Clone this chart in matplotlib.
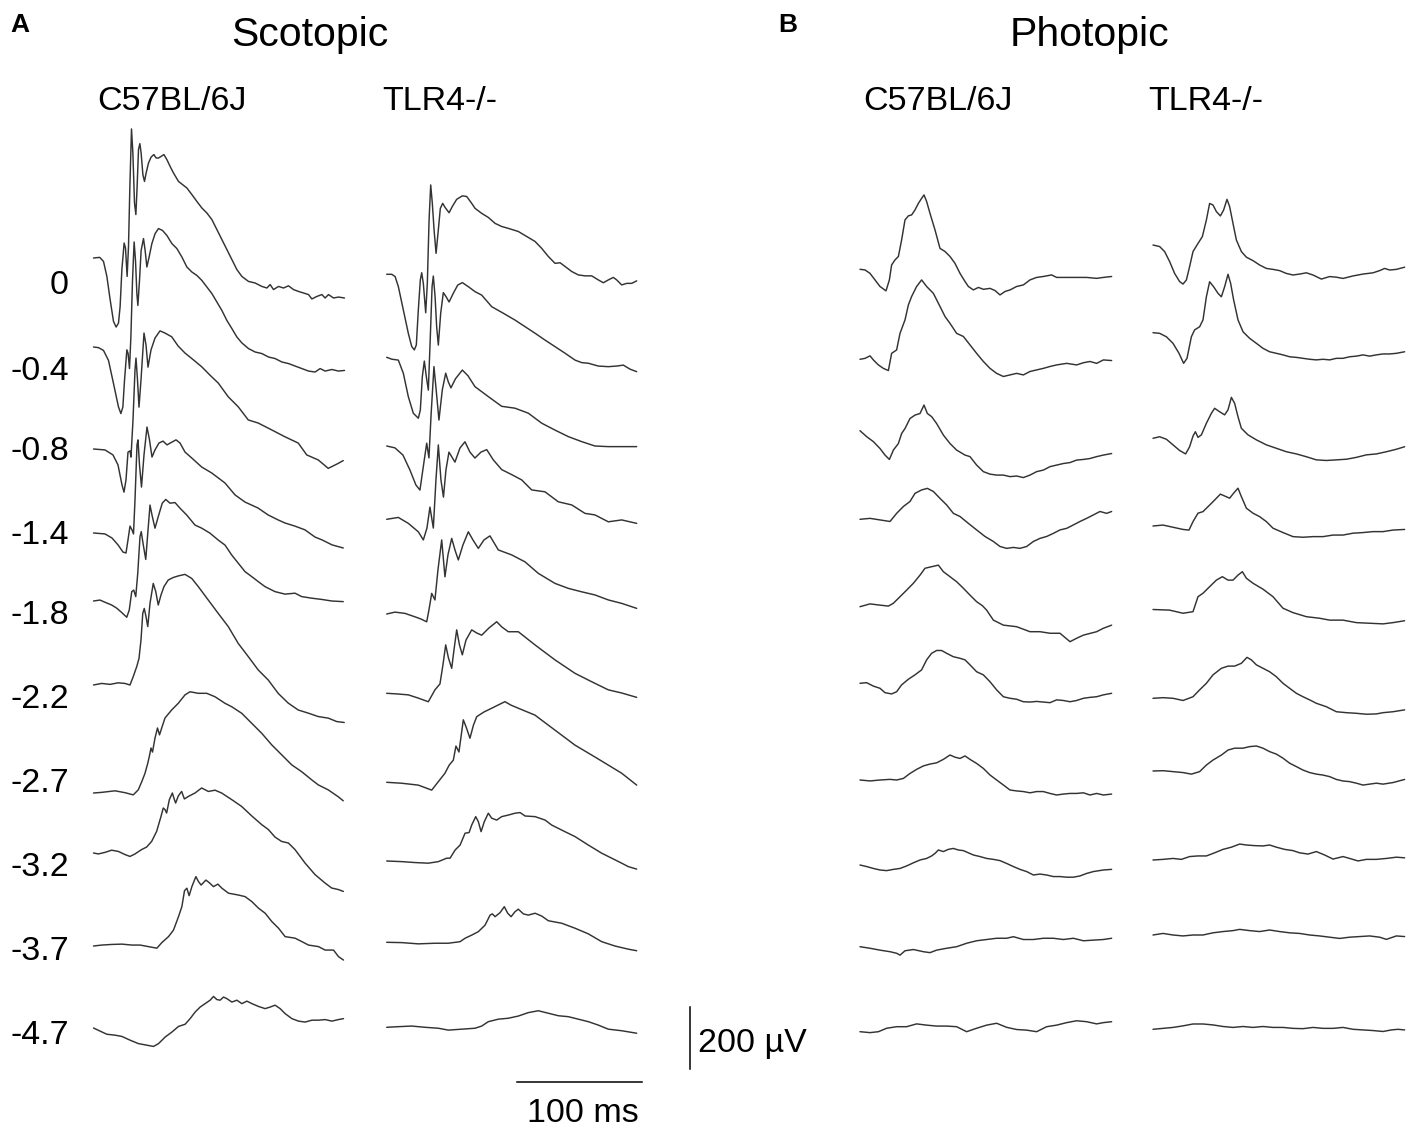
import matplotlib
matplotlib.use("Agg")
import matplotlib.pyplot as plt

# ---------------- data (time in ms, amplitude in µV, relative to trace start) ----------------
conditions = ["Scotopic", "Photopic"]
strains = ["C57BL/6J", "TLR4-/-"]
intensities = ["0", "-0.4", "-0.8", "-1.4", "-1.8", "-2.2", "-2.7", "-3.2", "-3.7", "-4.7"]
scale_uv = 200
scale_ms = 100

scot_c57 = [
    [(0,0),(5,2),(8,-11),(10.7,-59),(13.3,-133),(16,-203),(18.1,-221),(20,-208),(21.3,-155),(22.7,-37),(24.5,48),(25.6,32),(26.9,-59),(28,37),(29.1,229),(30.4,413),(31.5,336),(32.8,176),(33.9,139),(34.9,229),(36,347),(37.1,366),(38.1,336),(39.5,267),(40.8,245),(42.1,272),(44,304),(46.1,323),(48.3,331),(50.1,320),(52,320),(54.1,325),(56.3,331),(58.7,315),(61.3,293),(64,272),(68,245),(71.2,235),(74.7,224),(78.7,203),(82.7,181),(86.7,160),(90.7,144),(94.7,123),(98.7,91),(102.7,59),(106.7,27),(110.7,-5),(114.7,-37),(118.7,-59),(124,-75),(129.3,-80),(134.7,-91),(138.7,-96),(141.3,-85),(144,-101),(148,-91),(152,-96),(156,-89),(160,-101),(164,-107),(168,-112),(172,-117),(174.7,-131),(178.7,-123),(182.7,-117),(185.3,-128),(188,-117),(192,-128),(196,-125),(200.8,-128)],
    [(0,0),(4,-2),(8,-11),(12,-43),(16,-117),(20,-192),(21.9,-213),(23.5,-192),(24.8,-107),(26.7,-9),(27.7,-21),(28.8,-69),(29.9,32),(31.2,213),(32.5,336),(33.6,277),(34.7,171),(35.5,133),(36.8,213),(38.1,309),(40,347),(41.3,309),(42.7,256),(44.5,288),(46.7,331),(49.3,363),(52,379),(55.2,373),(58.7,357),(62.7,331),(66.7,315),(70.7,288),(74.7,256),(78.7,240),(82.7,229),(86.7,213),(90.7,192),(94.7,171),(98.7,144),(102.7,117),(106.7,85),(110.7,59),(114.7,32),(118.7,13),(124,-5),(129.3,-16),(134.7,-21),(140,-32),(145.3,-37),(150.7,-48),(156,-53),(161.3,-61),(166.7,-69),(172,-77),(177.3,-80),(181.3,-69),(185.3,-77),(190.7,-72),(196,-77),(200.8,-75)],
    [(0,0),(9.2,-3),(15.6,-19),(19.6,-51),(22.8,-115),(24.4,-138),(26,-99),(27.6,-10),(29.2,-6),(30,-26),(31.6,93),(33.2,253),(34,291),(35.2,221),(36.4,134),(38,221),(40.4,371),(42,333),(43.6,262),(46,317),(49.2,355),(53.2,378),(57.2,371),(62.6,359),(67.6,330),(73.2,307),(80,285),(86.6,263),(93,237),(99.8,211),(107.8,167),(115.8,135),(123.8,93),(131.8,83),(142.6,61),(153.2,39),(163.8,19),(170.6,-19),(179.8,-35),(187.8,-62),(195.8,-46),(199.8,-37)],
    [(0,0),(9.2,-3),(14.8,-16),(19.6,-38),(23.6,-61),(26,-64),(27.6,-22),(29.2,22),(30.8,10),(32,-3),(33.2,106),(34.8,282),(35.6,298),(36.8,218),(38.4,147),(40.4,250),(42.8,339),(44.8,298),(46.8,243),(49.2,266),(52.4,288),(55.6,294),(58.8,282),(62.8,291),(66,298),(69.2,288),(73.2,259),(78.6,240),(86.6,211),(94.6,192),(105.2,160),(113.2,122),(121.2,99),(131.6,80),(139.6,58),(147.6,42),(153.2,32),(161.2,22),(169.2,10),(177.2,-13),(182.8,-22),(190.8,-38),(199.8,-48)],
    [(0,0),(5.2,3),(9.2,-4),(14.6,-13),(18.6,-23),(22.6,-37),(26.6,-52),(28.6,-29),(30.6,30),(32.2,35),(33.8,14),(35.4,89),(37.2,206),(38.2,222),(39.6,185),(41.8,133),(43.4,216),(45.2,307),(46.8,275),(49.2,233),(51.8,270),(55,313),(57.8,325),(61.2,313),(65.2,315),(69.2,297),(74.6,275),(81.2,243),(86.6,233),(93.2,217),(99.8,195),(105.2,179),(110.6,147),(115.8,121),(121.2,94),(126.6,78),(131.8,62),(137.2,46),(145.2,30),(153.2,22),(161.2,25),(166.6,14),(174.6,9),(182.6,5),(190.6,0),(199.8,-2)],
    [(0,0),(6.5,5),(13.2,2),(19.8,7),(25.2,5),(29.2,0),(31.8,27),(34.6,59),(36.4,85),(38,144),(39.4,229),(40.6,245),(42,219),(43.4,187),(45.2,261),(47.8,325),(49.8,299),(51.8,256),(54,288),(56.4,315),(59.8,336),(63.8,344),(67.8,349),(73.2,354),(78.6,341),(83.8,315),(91.8,272),(99.8,229),(107.8,187),(115.8,133),(123.8,91),(131.8,48),(139.8,16),(147.8,-27),(155.8,-58),(163.8,-80),(171.8,-90),(179.8,-101),(187.8,-106),(194.6,-117),(200.6,-120)],
    [(0,0),(6.5,2),(17.2,7),(25.2,1),(31.8,-6),(35.8,10),(38.6,36),(41.2,63),(43.4,95),(44.6,116),(46,144),(47.2,131),(49.2,176),(51.2,208),(52.8,186),(54.8,211),(57.2,240),(62.6,266),(67.8,287),(73.2,314),(77.2,324),(83.8,319),(90.6,319),(97.2,308),(105.2,287),(110.6,276),(118.6,255),(126.6,223),(134.6,191),(142.6,154),(150.6,122),(158.6,90),(166.6,68),(174.6,42),(179.8,26),(187.8,10),(195.8,-12),(199.8,-25)],
    [(0,0),(3.9,-3),(9.2,2),(14.5,9),(19.9,5),(25.2,-5),(29.2,-11),(33.2,-3),(38.5,11),(42.5,19),(46.5,37),(50.5,69),(54,117),(55.8,144),(57.2,139),(58.5,128),(60.7,171),(63.1,192),(64.7,171),(65.7,160),(67.9,183),(70.5,197),(72.7,173),(75.9,181),(81.2,192),(86.5,208),(91.9,197),(97.2,201),(102.5,192),(110.5,171),(118.5,149),(126.5,119),(134.5,91),(139.9,75),(145.2,51),(150.5,37),(155.9,32),(161.2,11),(169.2,-32),(177.2,-69),(185.2,-96),(190.5,-112),(195.9,-117),(199.9,-123)],
    [(0,0),(6.7,3),(14.7,5),(22.7,6),(30.7,3),(37.3,3),(44,-2),(50.7,-7),(54.7,11),(60,30),(64,51),(68,94),(70.7,126),(72.8,177),(74.7,185),(76.5,161),(78.7,190),(81.9,222),(84,206),(86.1,195),(89.9,211),(92.5,203),(96,190),(99.5,198),(102.7,185),(108,169),(116,163),(121.3,158),(126.7,142),(132,121),(137.3,105),(142.7,78),(148,57),(153.3,30),(161.3,25),(166.7,14),(172,3),(180,-2),(185.3,-13),(192,-13),(196,-34),(200,-45)],
    [(0,0),(5.3,-10),(10.7,-20),(17.3,-23),(22.7,-27),(29.3,-39),(36,-50),(42.7,-55),(48,-59),(52,-50),(57.3,-29),(62.7,-13),(68,5),(73.3,12),(77.3,30),(81.3,51),(85.3,67),(89.3,78),(93.3,89),(96,101),(98.7,91),(101.3,89),(104,99),(106.7,94),(110.7,83),(114.7,89),(118.7,78),(122.7,86),(126.7,78),(132,69),(137.3,62),(141.3,67),(145.3,73),(149.3,62),(153.3,46),(158.7,30),(164,22),(169.3,19),(174.7,25),(180,25),(185.3,27),(190.7,22),(196,27),(200,30)],
]

scot_tlr4 = [
    [(0,0),(4,0),(6.7,-7),(9.3,-39),(13.3,-114),(17.3,-189),(20,-231),(22.1,-242),(23.7,-226),(25.3,-114),(26.9,-18),(28,5),(29.3,-29),(31.2,-123),(32.5,-29),(33.9,174),(35.2,286),(36.5,227),(37.9,142),(39.5,67),(41.3,142),(42.9,211),(44.8,227),(46.7,214),(49.9,197),(52.5,217),(56,240),(60.5,251),(64,249),(68,227),(70.7,211),(76,195),(81.3,182),(86.7,163),(92,153),(97.3,147),(105.3,137),(112,121),(118.7,105),(124,83),(129.3,57),(134.7,35),(138.7,37),(142.7,25),(148,9),(153.3,-2),(158.7,-5),(164,-5),(169.3,-18),(173.3,-27),(177.3,-18),(181.3,-10),(184,-18),(188,-34),(192,-29),(196,-29),(200,-21)],
    [(0,0),(4,-6),(9.3,-9),(13.3,-51),(17.3,-126),(21.3,-179),(25.3,-195),(26.9,-169),(28.5,-62),(30.1,-12),(31.7,-62),(33.3,-105),(34.9,66),(36.3,226),(37.3,260),(38.7,194),(40,96),(41.3,39),(43.2,141),(45.3,207),(47.5,194),(49.9,177),(53.3,205),(56.8,231),(60.5,239),(65.3,226),(70.7,210),(76,199),(84,162),(93.3,141),(102.7,119),(110.7,98),(118.7,77),(126.7,55),(134.7,34),(142.7,13),(150.7,-9),(156,-17),(161.3,-19),(169.3,-28),(177.3,-30),(184,-28),(189.3,-25),(194.7,-38),(200,-46)],
    [(0,0),(6.6,-6),(13,-29),(18.6,-77),(23.4,-125),(26.6,-141),(29.5,-60),(32,9),(33.8,-38),(35.5,100),(37.8,254),(39.8,170),(41.8,83),(44.5,180),(47.2,233),(49.3,205),(51.4,186),(55,215),(60.5,243),(65,225),(70.6,190),(81.3,158),(92,127),(102.6,121),(113.3,105),(124,73),(134.6,51),(145.3,30),(156,14),(166.6,0),(177.3,-2),(188,-2),(200,-2)],
    [(0,0),(9.3,6),(17.3,-13),(25.3,-40),(29.3,-66),(32.2,-28),(34.6,39),(37.3,-28),(39.4,126),(41.3,238),(43.4,126),(45.4,71),(47.4,158),(49.8,215),(54.6,183),(58.6,228),(62.6,248),(66.6,215),(70.6,196),(75.4,215),(80,223),(85.3,190),(92,159),(100,143),(108,126),(116,94),(126.6,88),(137.3,56),(148,46),(158.6,19),(166.6,14),(177.3,-8),(188,-2),(200,-13)],
    [(0,0),(6.6,6),(14.6,2),(22.6,-9),(27.4,-16),(32,-25),(33.8,13),(36,66),(38.6,45),(41,141),(44,237),(46.6,119),(49,189),(52,242),(54.6,205),(57.3,173),(61,221),(65.3,263),(69,237),(73.3,210),(77.8,237),(82.6,250),(89.3,205),(100,189),(110.6,167),(121.3,130),(134.6,98),(145.3,82),(156,71),(166.6,61),(177.3,45),(188,34),(200,18)],
    [(0,0),(8.2,-2),(17.3,-5),(25,-15),(33.3,-27),(38.6,11),(42.6,30),(45,91),(47.2,155),(49.4,113),(52,80),(53.8,138),(56,203),(58.2,155),(60.5,123),(63.4,170),(68,203),(72,193),(76,186),(81.8,209),(88,229),(92.2,212),(97.3,197),(105.3,197),(118.6,155),(134.6,107),(150.6,64),(164,37),(177.3,11),(188,1),(200,-13)],
    [(0,0),(12,-3),(25.3,-9),(36,-25),(41.3,2),(46.6,29),(50,55),(53.3,71),(55.4,116),(57.8,97),(61.3,200),(63.8,174),(66.6,141),(69.4,183),(72,210),(77.8,225),(84,237),(89,247),(94.6,258),(99.4,247),(105.3,237),(118.6,215),(134.6,167),(150.6,119),(166.6,81),(177.3,55),(188,29),(200,-9)],
    [(0,0),(12,-2),(22.7,-5),(33.3,-7),(41.3,-2),(48,9),(50.7,9),(54.7,35),(58.7,51),(62.7,89),(65.9,91),(68,115),(71.2,142),(73.3,126),(75.5,94),(78.1,126),(81.3,153),(84,137),(88,131),(92,142),(97.3,147),(102.7,153),(106.7,155),(110.7,144),(118.7,142),(126.7,131),(132,115),(140,99),(150.7,78),(161.3,51),(172,25),(180,9),(188,-7),(193.3,-18),(200,-26)],
    [(0,0),(12,-1),(25.3,-5),(38.7,-3),(49.3,-3),(58.7,2),(62.7,13),(68,23),(73.3,34),(78.7,55),(82.7,87),(84.5,91),(86.7,82),(90.7,95),(94.1,114),(96.8,93),(99.5,82),(102.7,98),(105.3,106),(109.3,91),(113.3,87),(118.7,93),(124,84),(129.3,69),(140,61),(150.7,45),(161.3,27),(172,2),(182.7,-12),(193.3,-22),(200,-27)],
    [(0,0),(9.3,2),(20,4),(30.7,0),(41.3,-3),(49.3,-9),(60,-6),(70.7,-3),(76,4),(81.3,18),(89.3,26),(97.3,29),(105.3,36),(113.3,47),(121.3,53),(129.3,45),(137.3,37),(145.3,34),(153.3,26),(161.3,18),(169.3,7),(177.3,-6),(188,-11),(200,-19)],
]

phot_c57 = [
    [(0,0),(4,-2),(8,-13),(12,-34),(16,-55),(20.8,-69),(23.5,-34),(25.3,14),(28,30),(30.7,41),(33.3,94),(36,158),(38.7,171),(41.3,174),(44,190),(46.7,211),(49.3,227),(51.2,238),(53.3,217),(56,179),(60,126),(64,67),(68,57),(72,41),(76,19),(80,-13),(84,-39),(86.7,-55),(90.7,-66),(94.7,-58),(98.7,-64),(104,-61),(108,-68),(112,-82),(116,-71),(120,-66),(125.3,-55),(130.7,-50),(136,-34),(141.3,-26),(146.7,-23),(153.3,-18),(157.3,-26),(165.3,-26),(173.3,-26),(181.3,-26),(189.3,-29),(194.7,-26),(201.3,-23)],
    [(0,0),(4,3),(8,11),(10.7,-2),(14.7,-18),(18.7,-29),(22.7,-36),(25.3,19),(29.3,30),(32,83),(36,126),(38.7,174),(41.3,201),(45.3,233),(49.3,254),(53.3,233),(58.7,211),(64,169),(68,137),(72,115),(77.3,83),(82.7,73),(88,46),(93.3,19),(98.7,-7),(104,-29),(109.3,-45),(114.7,-55),(120,-50),(125.3,-45),(130.7,-50),(136,-39),(141.3,-34),(146.7,-29),(152,-23),(157.3,-18),(165.3,-13),(173.3,-18),(178.7,-11),(184,-7),(189.3,-13),(194.7,-2),(201.3,-4)],
    [(0,0),(5.3,-19),(10.7,-35),(16,-57),(20,-78),(23.5,-92),(26.7,-62),(30.7,-41),(33.3,-9),(36,7),(40,39),(44,50),(48,55),(51.2,82),(53.9,55),(57.3,45),(61.3,23),(66.7,-14),(72,-41),(77.3,-62),(84,-78),(88,-83),(93.3,-110),(98.7,-131),(104,-139),(109.3,-142),(114.7,-142),(120,-147),(125.3,-145),(130.7,-150),(136,-142),(141.3,-131),(146.7,-126),(152,-115),(157.3,-110),(162.7,-105),(168,-102),(173.3,-94),(178.7,-92),(184,-89),(189.3,-83),(194.7,-78),(201.3,-73)],
    [(0,0),(8,3),(16,-2),(24,-7),(29.3,19),(34.7,41),(40,57),(44,83),(49.3,94),(53.9,99),(58.7,89),(64,67),(69.3,46),(74.7,19),(80,9),(86.7,-13),(93.3,-34),(100,-55),(106.7,-71),(112,-87),(117.3,-93),(122.7,-90),(128,-93),(133.3,-87),(138.7,-71),(144,-61),(149.3,-55),(154.7,-45),(160,-34),(165.3,-29),(170.7,-18),(176,-7),(181.3,3),(186.7,14),(192,25),(197.3,19),(201.3,25)],
    [(0,0),(8,9),(16,5),(22.7,2),(26.7,11),(32,32),(37.3,53),(42.7,75),(48,101),(52,123),(57.3,128),(62.7,133),(66.7,112),(72,96),(77.3,80),(82.7,59),(88,37),(93.3,16),(98,3),(101.3,-11),(106.7,-43),(114.7,-59),(125.3,-64),(136,-80),(144,-80),(152,-85),(160,-85),(168,-112),(173.3,-101),(178.7,-91),(189.3,-80),(194.7,-69),(201.3,-59)],
    [(0,0),(5.3,2),(10.7,-9),(16,-16),(20,-30),(25.3,-34),(29.3,-27),(33.3,-5),(38.7,13),(44,27),(49.3,43),(53.3,75),(57.3,96),(61.3,105),(65.3,105),(69.3,96),(74.7,85),(80,80),(84,75),(88,59),(93.3,37),(98.7,27),(104,5),(109.3,-21),(114.7,-43),(120,-48),(125.3,-51),(130.7,-59),(136,-60),(141.3,-58),(146.7,-60),(152,-62),(157.3,-53),(162.7,-55),(168,-59),(173.3,-55),(178.7,-48),(184,-45),(189.3,-43),(194.7,-37),(201.3,-32)],
    [(0,0),(8,-3),(16,0),(24,2),(29.3,0),(34.7,5),(40,21),(45.3,34),(50.7,45),(56,51),(61.3,55),(66.7,66),(72,80),(76,73),(80,69),(84,77),(88,66),(93.3,53),(98.7,37),(104,16),(109.3,0),(114.7,-16),(120,-32),(125.3,-35),(130.7,-37),(136,-41),(141.3,-37),(146.7,-37),(152,-43),(157.3,-48),(162.7,-45),(168,-43),(173.3,-43),(178.7,-41),(184,-48),(189.3,-43),(194.7,-48),(201.3,-45)],
    [(0,0),(5.3,-5),(10.7,-11),(16,-16),(21.3,-18),(26.7,-14),(32,-11),(37.3,-3),(42.7,7),(48,16),(53.3,21),(57.3,29),(60,37),(62.7,48),(66.7,43),(70.7,50),(74.7,53),(78.7,48),(82.7,46),(86.7,39),(90.7,32),(96,27),(101.3,21),(106.7,18),(112,14),(117.3,5),(122.7,-5),(128,-14),(133.3,-21),(138.7,-32),(144,-29),(149.3,-32),(154.7,-37),(160,-37),(165.3,-39),(170.7,-39),(176,-35),(181.3,-27),(186.7,-21),(194.7,-16),(201.3,-14)],
    [(0,0),(8,-5),(16,-11),(24,-16),(29.3,-21),(32,-27),(36,-13),(42.7,-9),(50.7,-16),(56,-19),(61.3,-11),(69.3,-5),(77.3,0),(85.3,11),(93.3,19),(101.3,23),(109.3,27),(117.3,27),(122.7,32),(130.7,23),(138.7,23),(146.7,27),(154.7,27),(162.7,23),(170.7,27),(178.7,19),(186.7,21),(194.7,23),(201.3,27)],
    [(0,0),(8,-3),(14.7,0),(21.3,11),(29.3,16),(37.3,16),(45.3,25),(53.3,21),(61.3,18),(69.3,18),(77.3,16),(85.3,0),(93.3,11),(101.3,21),(109.3,27),(117.3,14),(125.3,7),(133.3,5),(141.3,0),(149.3,16),(157.3,21),(165.3,29),(173.3,35),(181.3,32),(189.3,25),(194.7,29),(201.3,32)],
]

phot_tlr4 = [
    [(0,0),(5.3,-5),(9.3,-21),(13.3,-53),(17.3,-91),(21.3,-117),(24,-125),(26.7,-112),(29.3,-69),(32,-21),(36,5),(39.5,27),(42.7,80),(45.3,133),(48,128),(50.7,107),(53.9,93),(56.5,112),(59.2,146),(61.3,123),(64,69),(66.7,16),(70.7,-21),(74.7,-39),(80,-50),(85.3,-64),(90.7,-75),(96,-78),(101.3,-82),(106.7,-91),(112,-96),(117.3,-93),(122.7,-89),(128,-96),(134.7,-109),(141.3,-101),(146.7,-103),(152,-107),(160,-99),(168,-93),(176,-89),(181.3,-82),(185.3,-75),(189.3,-80),(194.7,-78),(201.3,-71)],
    [(0,0),(5.3,-2),(10.7,-13),(16,-34),(20.8,-66),(24.5,-98),(27.2,-82),(30.7,-13),(33.3,9),(37.3,19),(40,41),(42.7,115),(45.3,163),(48.5,147),(52,126),(54.7,115),(57.3,147),(60,187),(62.1,158),(64.5,105),(68,41),(72,3),(77.3,-18),(82.7,-34),(88,-50),(93.3,-61),(98.7,-66),(104,-71),(109.3,-77),(114.7,-79),(120,-82),(125.3,-85),(130.7,-87),(136,-85),(141.3,-87),(146.7,-82),(152,-82),(157.3,-77),(162.7,-75),(168,-71),(173.3,-75),(178.7,-71),(184,-68),(189.3,-68),(194.7,-66),(201.3,-61)],
    [(0,0),(5.3,5),(10.7,-3),(16,-21),(21.3,-39),(26.1,-50),(29.3,-27),(32,7),(33.9,21),(36,3),(38.7,11),(42.7,48),(46.7,80),(49.3,96),(53.3,85),(57.3,75),(60,91),(62.7,131),(65.3,112),(68,69),(70.7,32),(76,11),(82.7,-5),(90.7,-21),(98.7,-32),(106.7,-43),(114.7,-50),(122.7,-59),(130.7,-69),(138.7,-71),(146.7,-69),(154.7,-67),(162.7,-61),(170.7,-53),(178.7,-50),(186.7,-43),(194.7,-35),(201.3,-27)],
    [(0,0),(8,3),(16,-4),(24,-11),(28.8,-13),(32,14),(36,41),(40,46),(45.3,67),(49.3,83),(53.9,102),(57.3,96),(61.3,89),(64.5,105),(68,121),(70.7,94),(74.7,57),(80,41),(85.3,30),(90.7,14),(96,-7),(104,-21),(112,-34),(120,-36),(128,-34),(136,-34),(144,-29),(152,-29),(160,-23),(168,-21),(176,-18),(184,-18),(192,-13),(201.3,-11)],
    [(0,0),(13.3,-2),(24,-12),(32,-7),(36,41),(40,52),(45.3,73),(50.7,94),(55.5,105),(60,94),(64,94),(68,110),(71.5,121),(74.7,100),(80,84),(88,65),(96,41),(104,4),(112,-10),(122.7,-23),(133.3,-28),(141.3,-34),(152,-34),(162.7,-42),(173.3,-44),(184,-46),(192,-42),(201.3,-36)],
    [(0,0),(8,2),(16,0),(24,-7),(32,5),(37.3,27),(42.7,48),(48,75),(54.7,96),(60,103),(65.3,103),(70.7,112),(75.2,131),(78.7,123),(82.7,107),(88,96),(93.3,85),(98.7,69),(104,48),(109.3,32),(114.7,16),(120,5),(125.3,-5),(130.7,-16),(138.7,-27),(146.7,-43),(154.7,-46),(162.7,-48),(170.7,-51),(178.7,-50),(184,-46),(192,-43),(201.3,-37)],
    [(0,0),(8,1),(16,-2),(24,-5),(30.7,-10),(37.3,-2),(42.7,19),(48,35),(54.7,51),(60,67),(65.3,73),(72,73),(77.3,78),(82.7,80),(88,73),(93.3,62),(98.7,54),(104,41),(109.3,25),(114.7,14),(120,3),(125.3,-5),(130.7,-10),(136,-13),(141.3,-18),(146.7,-27),(152,-32),(157.3,-34),(162.7,-39),(168,-45),(173.3,-42),(178.7,-39),(184,-42),(192,-37),(201.3,-27)],
    [(0,0),(8,2),(16,5),(22.7,2),(29.3,11),(36,13),(42.7,13),(49.3,23),(56,34),(62.7,41),(69.3,51),(74.7,48),(81.3,46),(88,45),(93.3,48),(98.7,41),(105.3,34),(112,30),(117.3,23),(124,19),(130.7,27),(137.3,16),(144,3),(152,11),(157.3,5),(164,-3),(170.7,2),(178.7,2),(186.7,5),(194.7,9),(201.3,7)],
    [(0,0),(8,5),(16,0),(24,-3),(32,0),(40,0),(48,7),(56,11),(64,14),(69.3,18),(77.3,14),(85.3,11),(93.3,16),(101.3,11),(109.3,7),(117.3,5),(125.3,0),(133.3,-3),(141.3,-7),(149.3,-11),(157.3,-7),(165.3,-5),(173.3,-3),(181.3,-7),(186.7,-14),(194.7,-3),(201.3,-5)],
    [(0,0),(8,3),(16,6),(24,11),(32,17),(40,17),(48,14),(56,9),(64,6),(72,9),(80,6),(88,9),(96,6),(104,6),(112,3),(120,2),(128,6),(136,3),(144,3),(152,6),(160,0),(168,-2),(176,-4),(184,-7),(190.7,-2),(196,0),(201.3,-2)],
]

# ---------------- layout (figure pixels) ----------------
W, H = 1417, 1137
MS_PER_PX = 0.8      # horizontal calibration: 100 ms = 125 px
UV_PER_PX = 3.2      # vertical calibration: 200 uV = 62.5 px

columns = [
    (scot_c57, 93.5, [258, 347, 449, 533, 601, 685, 793, 853, 946, 1028]),
    (scot_tlr4, 386.7, [274.3, 357.3, 446, 519.3, 614, 693.3, 782.3, 861, 942.3, 1027.3]),
    (phot_c57, 860, [269.3, 359.3, 430.7, 519.3, 606.7, 683.3, 780, 865, 946.7, 1031.7]),
    (phot_tlr4, 1153, [245, 332.7, 438.3, 526, 609.5, 698.3, 771, 860, 935, 1029.3]),
]

plt.rcParams['font.family'] = ['Liberation Sans', 'DejaVu Sans']

fig = plt.figure(figsize=(W / 100, H / 100), dpi=100)
fig.patch.set_facecolor('white')
ax = fig.add_axes([0, 0, 1, 1])
ax.set_xlim(0, W * MS_PER_PX)
ax.set_ylim(-H * UV_PER_PX, 0)
ax.axis('off')

trace_color = '#333333'
for traces, x0_px, rows_px in columns:
    x_off = x0_px * MS_PER_PX
    for trace, y0_px in zip(traces, rows_px):
        y_off = -y0_px * UV_PER_PX
        t = [p[0] + x_off for p in trace]
        v = [p[1] + y_off for p in trace]
        ax.plot(t, v, color=trace_color, lw=1.05, solid_joinstyle='round',
                solid_capstyle='round', antialiased=True)

# scale bars
vx = 690 * MS_PER_PX
vy0 = -1069 * UV_PER_PX
ax.plot([vx, vx], [vy0, vy0 + scale_uv], color='black', lw=1.1)
hx0 = 517 * MS_PER_PX
hy = -1082 * UV_PER_PX
ax.plot([hx0, hx0 + scale_ms], [hy, hy], color='black', lw=1.1)


def ftext(x, y, s, **kw):
    fig.text(x / W, 1 - y / H, s, **kw)


# titles
ftext(10, 32, "A", fontsize=19, fontweight='bold', ha='left', va='baseline')
ftext(778, 32, "B", fontsize=19, fontweight='bold', ha='left', va='baseline')
ftext(310, 46, conditions[0], fontsize=29.5, ha='center', va='baseline')
ftext(1089, 46, conditions[1], fontsize=29.5, ha='center', va='baseline')

# strain headers
for cx in (172, 938):
    ftext(cx, 110, strains[0], fontsize=24.5, ha='center', va='baseline')
for cx in (440, 1206):
    ftext(cx, 110, strains[1], fontsize=24.5, ha='center', va='baseline')

# intensity labels
label_baselines = [294, 380, 460, 544, 624, 708, 792, 876, 960, 1044]
for lab, yb in zip(intensities, label_baselines):
    ftext(69, yb, lab, fontsize=24.5, ha='right', va='baseline')

# scale labels
ftext(698, 1052, f"{scale_uv} \u00b5V", fontsize=24.5, ha='left', va='baseline')
ftext(583, 1122, f"{scale_ms} ms", fontsize=24.5, ha='center', va='baseline')

fig.savefig('out.png', dpi=100, facecolor='white')
